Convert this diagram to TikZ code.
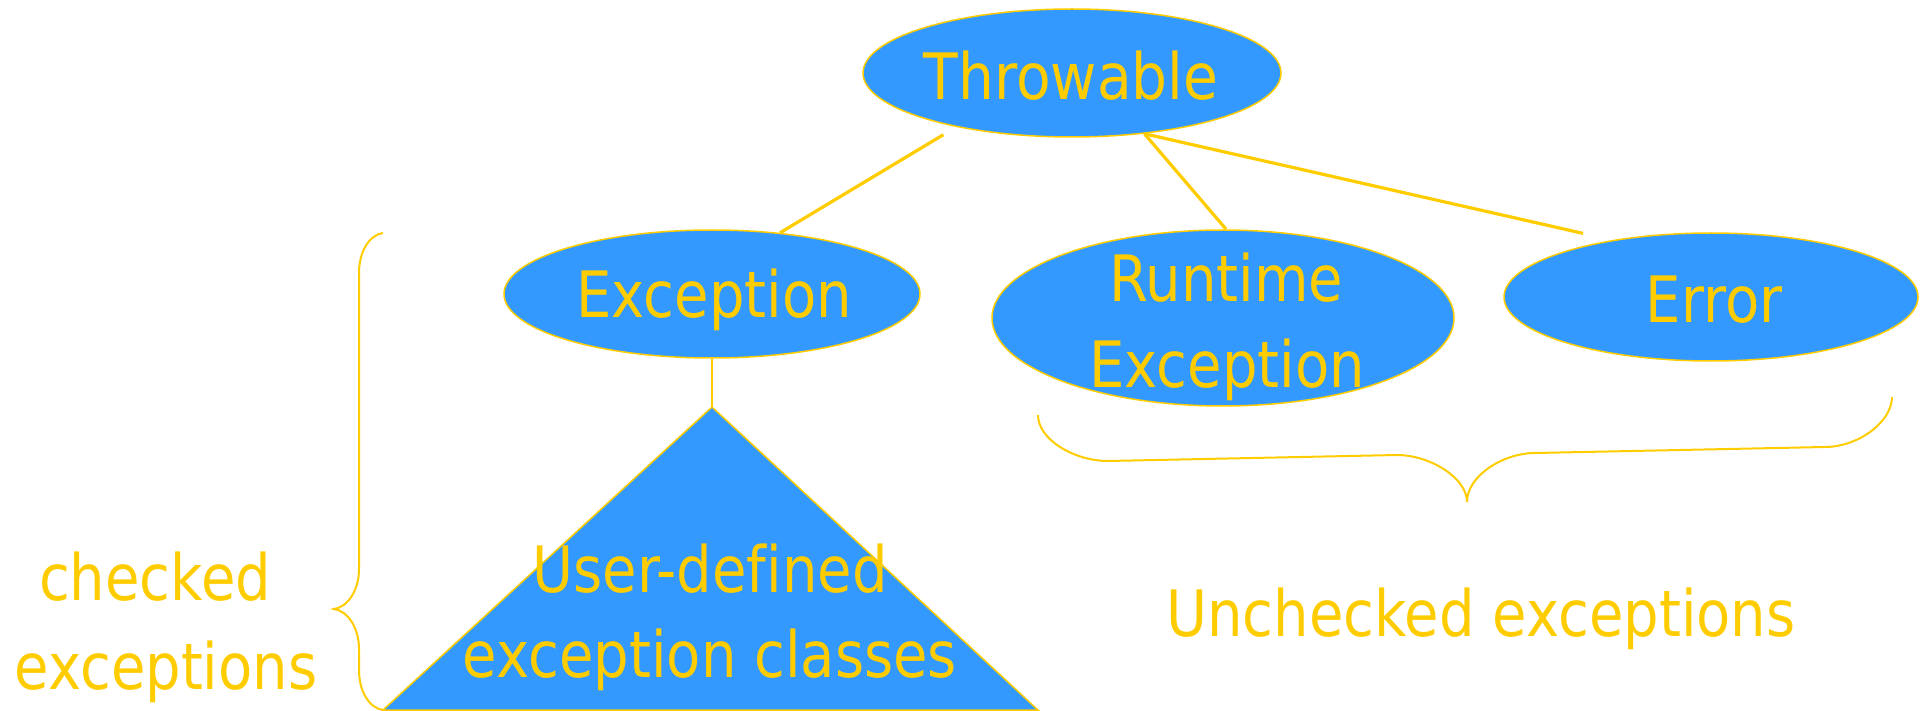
\documentclass[tikz,border=0pt]{standalone}
\usepackage{fontspec}
\setmainfont{DejaVu Sans}[FakeStretch=0.875,Ligatures=CommonOff]
\newfontfamily\widefont{DejaVu Sans}[FakeStretch=0.885,Ligatures=CommonOff]
\usetikzlibrary{shapes.geometric}
\definecolor{jblue}{HTML}{3399FF}
\definecolor{jyellow}{HTML}{FFCC00}
\begin{document}
\begin{tikzpicture}[x=1pt,y=-1pt,
  ell/.style={ellipse, draw=jyellow, fill=jblue, line width=1.5pt, inner sep=0pt},
  lbl/.style={text=jyellow, inner sep=0pt, anchor=base, font=\fontsize{64}{85}\selectfont},
  conn/.style={draw=jyellow, line width=3.2pt},
  bracestyle/.style={draw=jyellow, line width=2pt}]
\useasboundingbox (0,0) rectangle (1920,711);
% ellipses
\node[ell, minimum width=418pt, minimum height=128pt] (thr) at (1072,73) {};
\node[ell, minimum width=416pt, minimum height=128pt] (exc) at (712,294) {};
\node[ell, minimum width=462pt, minimum height=176pt] (rte) at (1223,318) {};
\node[ell, minimum width=414pt, minimum height=128pt] (err) at (1711,297) {};
% triangle
\coordinate (apex) at (712,407);
\coordinate (bl) at (383,710);
\coordinate (br) at (1038,710);
\filldraw[fill=jblue, draw=jyellow, line width=1.5pt] (apex) -- (bl) -- (br) -- cycle;
% connectors
\draw[conn, shorten <=15pt] (thr.205) -- (exc.42);
\draw[conn] (thr.320) -- (rte.88);
\draw[conn, shorten >=30pt] (thr.320) -- (err.150);
\draw[conn, line width=2.5pt] (exc.south) -- (apex);
% labels
\node[lbl, font=\fontsize{64}{85}\widefont] (thrT) at (1071,100) {Throwable};
\node[lbl] (excT) at (714,318) {Exception};
\node[lbl] (rteT1) at (1226,302) {Runtime};
\node[lbl] (rteT2) at (1227,387) {Exception};
\node[lbl] (errT) at (1714,323) {Error};
\node[lbl] (udT1) at (710,592) {User-defined};
\node[lbl] (udT2) at (710,677) {exception classes};
\node[lbl] (chT1) at (155,600) {checked};
\node[lbl] (chT2) at (166,689) {exceptions};
\node[lbl] (unT) at (1481,636) {Unchecked exceptions};
% braces
\draw[bracestyle] (383,233) .. controls (369,235) and (359,252) .. (359,273) -- (359,569)
  .. controls (359,590) and (348,607) .. (334,609)
  .. controls (348,611) and (359,628) .. (359,649) -- (359,670)
  .. controls (359,691) and (369,708) .. (383,710);
\draw[bracestyle] (1038,415) .. controls (1038,440) and (1075,461) .. (1108,461) -- (1397,455)
  .. controls (1430,455) and (1467,478) .. (1467,502)
  .. controls (1467,476) and (1503,453) .. (1535,453) -- (1825,447)
  .. controls (1858,447) and (1892,422) .. (1892,397);
\end{tikzpicture}
\end{document}
